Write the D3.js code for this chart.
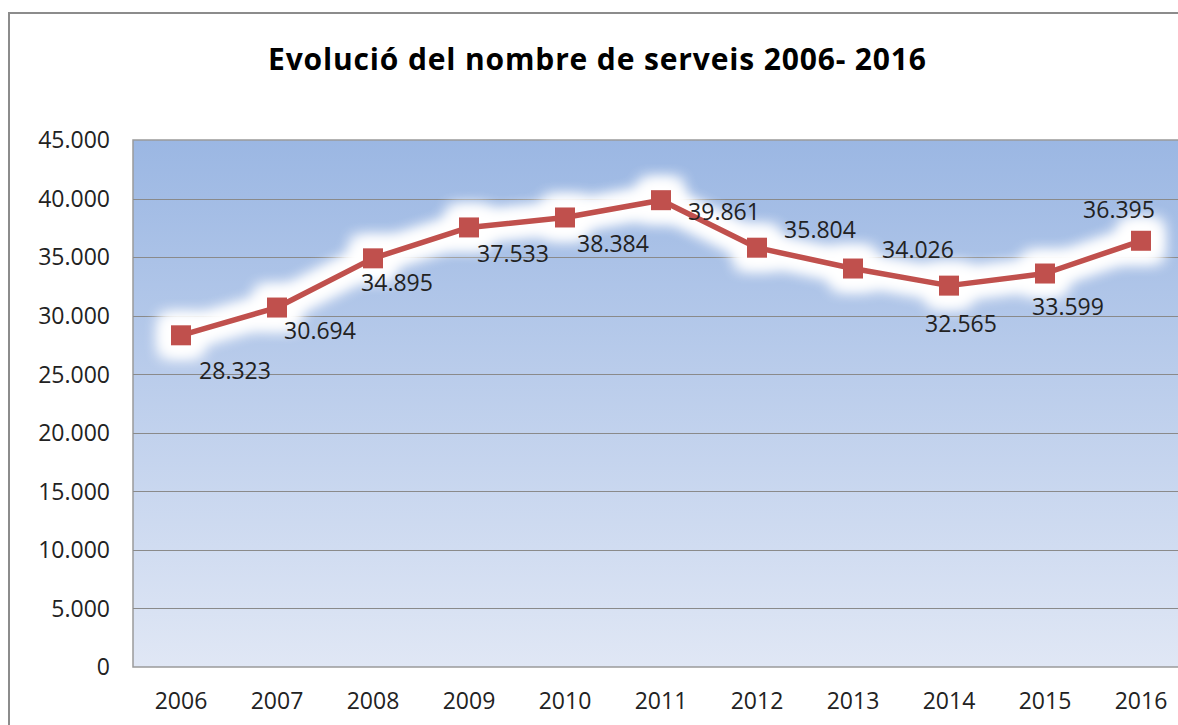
<!DOCTYPE html>
<html>
<head>
<meta charset="utf-8">
<script src="https://cdn.jsdelivr.net/npm/d3@7"></script>
<style>
  html, body { margin: 0; padding: 0; background: #fff; }
  svg { display: block; font-family: "Open Sans", "Noto Sans", sans-serif; }
</style>
</head>
<body>
<div id="chart"></div>
<script>
const title = "Evolució del nombre de serveis 2006- 2016"
const years = ["2006", "2007", "2008", "2009", "2010", "2011", "2012", "2013", "2014", "2015", "2016"]
const serveis = [28323, 30694, 34895, 37533, 38384, 39861, 35804, 34026, 32565, 33599, 36395]
const yTicks = [0, 5000, 10000, 15000, 20000, 25000, 30000, 35000, 40000, 45000]

// label nudges relative to the marker (as placed in the original)
const labelOffsets = [[54, 35], [43, 23], [24, 24], [44, 26], [48, 26], [63, 12], [63, -18], [65, -19], [12, 38], [23, 33], [-22, -31]]

const width = 1178
const height = 725
const margin = { top: 140, right: -11, bottom: 58, left: 133 }

const fmt = v => d3.format(",")(v).replace(/,/g, ".")

const svg = d3.select("#chart")
  .append("svg")
  .attr("width", width)
  .attr("height", height)
  .attr("viewBox", [0, 0, width, height])

const defs = svg.append("defs")

const grad = defs.append("linearGradient")
  .attr("id", "plotBg")
  .attr("x1", 0).attr("y1", 0).attr("x2", 0).attr("y2", 1)
grad.append("stop").attr("offset", "0%").attr("stop-color", "#9bb7e3")
grad.append("stop").attr("offset", "100%").attr("stop-color", "#e0e7f5")

const glow = defs.append("filter")
  .attr("id", "glow")
  .attr("x", "-20%").attr("y", "-50%")
  .attr("width", "140%").attr("height", "200%")
glow.append("feGaussianBlur").attr("stdDeviation", 8).attr("result", "b")
const merge = glow.append("feMerge")
merge.append("feMergeNode").attr("in", "b")
merge.append("feMergeNode").attr("in", "b")
merge.append("feMergeNode").attr("in", "b")

// outer chart frame
svg.append("rect")
  .attr("x", 9).attr("y", 13)
  .attr("width", width + 20).attr("height", height + 20)
  .attr("fill", "none")
  .attr("stroke", "#8c8c8c")
  .attr("stroke-width", 2)

svg.append("text")
  .attr("x", 597)
  .attr("y", 70)
  .attr("text-anchor", "middle")
  .attr("font-size", 30)
  .attr("font-weight", "bold")
  .attr("fill", "#000")
  .attr("textLength", 658)
  .attr("lengthAdjust", "spacing")
  .text(title)

const x = d3.scaleBand()
  .domain(years)
  .range([margin.left, width - margin.right])

const y = d3.scaleLinear()
  .domain([0, 45000])
  .range([height - margin.bottom, margin.top])

svg.append("rect")
  .attr("x", margin.left)
  .attr("y", margin.top)
  .attr("width", width - margin.right - margin.left)
  .attr("height", y(0) - y(45000))
  .attr("fill", "url(#plotBg)")
  .attr("stroke", "#9a9a9a")
  .attr("stroke-width", 1.5)

svg.append("g")
  .selectAll("line")
  .data(yTicks.slice(1, -1))
  .join("line")
    .attr("x1", margin.left)
    .attr("x2", width - margin.right)
    .attr("y1", d => Math.round(y(d)) + 0.5)
    .attr("y2", d => Math.round(y(d)) + 0.5)
    .attr("stroke", "#8a8a8a")
    .attr("stroke-width", 1.2)

svg.append("g")
  .selectAll("text")
  .data(yTicks)
  .join("text")
    .attr("x", 110)
    .attr("y", d => y(d))
    .attr("dy", "0.36em")
    .attr("text-anchor", "end")
    .attr("font-size", 23)
    .attr("fill", "#222")
    .text(d => fmt(d))

svg.append("g")
  .selectAll("text")
  .data(years)
  .join("text")
    .attr("x", d => x(d) + x.bandwidth() / 2)
    .attr("y", 709)
    .attr("text-anchor", "middle")
    .attr("font-size", 23)
    .attr("fill", "#222")
    .text(d => d)

const points = years.map((yr, i) => ({ yr, v: serveis[i], off: labelOffsets[i] }))
const px = d => x(d.yr) + x.bandwidth() / 2
const py = d => y(d.v)

const line = d3.line().x(px).y(py)

// white glow behind the series
const glowG = svg.append("g").attr("filter", "url(#glow)")
glowG.append("path")
  .datum(points)
  .attr("d", line)
  .attr("fill", "none")
  .attr("stroke", "#fff")
  .attr("stroke-width", 22)
  .attr("stroke-linejoin", "round")
glowG.selectAll("rect")
  .data(points)
  .join("rect")
    .attr("x", d => px(d) - 19)
    .attr("y", d => py(d) - 19)
    .attr("width", 38)
    .attr("height", 38)
    .attr("fill", "#fff")

svg.append("path")
  .datum(points)
  .attr("d", line)
  .attr("fill", "none")
  .attr("stroke", "#c0504d")
  .attr("stroke-width", 5.5)
  .attr("stroke-linejoin", "round")

svg.append("g")
  .selectAll("rect")
  .data(points)
  .join("rect")
    .attr("x", d => px(d) - 10)
    .attr("y", d => py(d) - 10)
    .attr("width", 20)
    .attr("height", 20)
    .attr("fill", "#c0504d")

svg.append("g")
  .selectAll("text")
  .data(points)
  .join("text")
    .attr("x", d => px(d) + d.off[0])
    .attr("y", d => py(d) + d.off[1])
    .attr("dy", "0.36em")
    .attr("text-anchor", "middle")
    .attr("font-size", 23)
    .attr("fill", "#222")
    .text(d => fmt(d.v))
</script>
</body>
</html>
